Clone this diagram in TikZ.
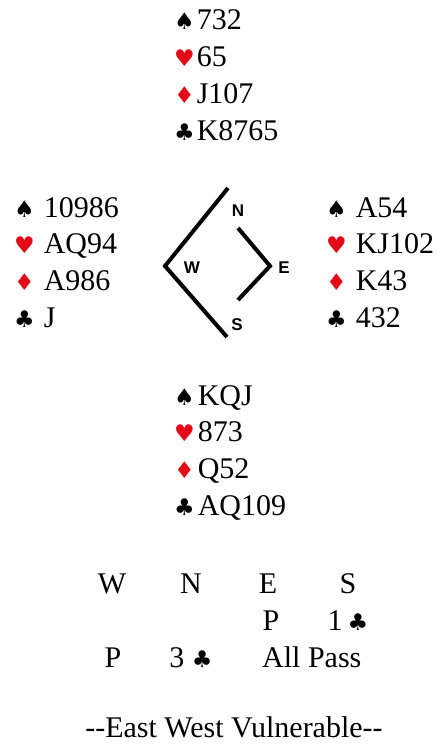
\documentclass[tikz,border=0pt]{standalone}
\usepackage{fontspec}
\usepackage{xcolor}
\setmainfont{Liberation Serif}
\newfontfamily\suitfont{DejaVu Sans}
\newfontfamily\compassfont{Liberation Sans}
\usetikzlibrary{positioning}
\definecolor{cardred}{RGB}{226,10,22}
\newcommand{\suitS}{{\suitfont\fontsize{23}{23}\selectfont ♠}}
\newcommand{\suitH}{{\suitfont\fontsize{23}{23}\selectfont\color{cardred}♥}}
\newcommand{\suitD}{{\suitfont\fontsize{23}{23}\selectfont\color{cardred}♦}}
\newcommand{\suitC}{{\suitfont\fontsize{23}{23}\selectfont ♣}}
\newcommand{\handtab}[5]{\begin{tabular}[t]{@{}l@{\hspace{#1}}l@{}}
  \suitS & #2\\ \suitH & #3\\ \suitD & #4\\ \suitC & #5
\end{tabular}}

\begin{document}
\begin{tikzpicture}[
				x=1pt, y=-1pt,
				hand/.style={anchor=base west, inner sep=0pt, font=\fontsize{30}{36.8}\selectfont},
				call/.style={anchor=base, inner sep=0pt, font=\fontsize{30}{34}\selectfont},
				seat/.style={inner sep=0pt, font=\compassfont\bfseries\fontsize{17}{17}\selectfont},
				compass/.style={line width=4pt}
				]
				\useasboundingbox (0,0) rectangle (437,746);
				% the four hands
				\node[hand] (north) at (174,30) {\handtab{2pt}{732}{65}{J107}{K8765}};
				\node[hand] (west) at (14,217) {\handtab{9pt}{10986}{AQ94}{A986}{J}};
				\node[hand] (east) at (326,217) {\handtab{9pt}{A54}{KJ102}{K43}{432}};
				\node[hand] (south) at (174,405) {\handtab{3pt}{KQJ}{873}{Q52}{AQ109}};
				% compass
				\draw[compass] (228,188) -- (165,266) -- (227,337);
				\draw[compass] (238,228) -- (270,266) -- (238,300);
				\node[seat] (n) at (238,211) {N};
				\node[seat] (w) at (192,268) {W};
				\node[seat] (e) at (284,268) {E};
				\node[seat] (s) at (237,325) {S};
				% bidding
				\node[call] (bw) at (112,593) {W};
				\node[call] (bn) at (191,593) {N};
				\node[call] (be) at (268,593) {E};
				\node[call] (bs) at (348,593) {S};
				\node[call] (e1) at (271,630) {P};
				\node[call] (s1) at (348,630) {1\,\suitC};
				\node[call] (w2) at (113,667) {P};
				\node[call] (n2) at (191,667) {3 \suitC};
				\node[call, anchor=base west] (e2) at (262,667) {All Pass};
				\node[call] (vul) at (234,737) {-\kern0pt-East West Vulnerable-\kern0pt-};
			\end{tikzpicture}
\end{document}
